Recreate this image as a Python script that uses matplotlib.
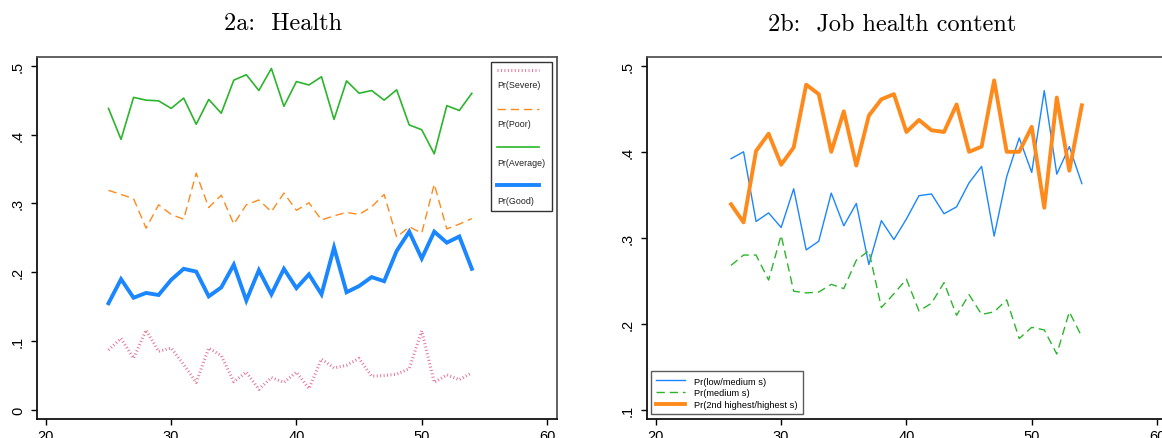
import matplotlib
matplotlib.use('Agg')
import matplotlib.pyplot as plt
from matplotlib.patches import Rectangle

# ---- data ----
age_a = list(range(25, 55))
severe = [0.087, 0.104, 0.075, 0.116, 0.085, 0.090, 0.066, 0.040, 0.090, 0.079,
          0.041, 0.055, 0.030, 0.047, 0.040, 0.055, 0.031, 0.074, 0.061, 0.065,
          0.075, 0.049, 0.050, 0.052, 0.060, 0.115, 0.040, 0.051, 0.044, 0.054]
poor = [0.319, 0.313, 0.307, 0.264, 0.298, 0.284, 0.277, 0.344, 0.294, 0.312,
        0.270, 0.298, 0.305, 0.288, 0.315, 0.290, 0.301, 0.276, 0.282, 0.287,
        0.284, 0.295, 0.313, 0.251, 0.266, 0.257, 0.328, 0.263, 0.270, 0.278]
average = [0.438, 0.393, 0.454, 0.450, 0.449, 0.438, 0.453, 0.415, 0.451, 0.431,
           0.479, 0.487, 0.464, 0.496, 0.441, 0.477, 0.472, 0.484, 0.422, 0.478,
           0.460, 0.464, 0.450, 0.465, 0.414, 0.407, 0.372, 0.442, 0.435, 0.460]
good = [0.155, 0.190, 0.163, 0.170, 0.167, 0.189, 0.205, 0.201, 0.165, 0.178,
        0.211, 0.159, 0.203, 0.168, 0.205, 0.177, 0.197, 0.168, 0.236, 0.171,
        0.180, 0.193, 0.187, 0.231, 0.259, 0.220, 0.259, 0.243, 0.252, 0.205]

age_b = list(range(26, 55))
low_med = [0.392, 0.400, 0.319, 0.329, 0.312, 0.357, 0.286, 0.296, 0.352, 0.314,
           0.340, 0.269, 0.320, 0.298, 0.322, 0.349, 0.351, 0.328, 0.336, 0.364,
           0.383, 0.302, 0.371, 0.416, 0.376, 0.471, 0.374, 0.406, 0.363]
medium = [0.268, 0.280, 0.280, 0.251, 0.303, 0.238, 0.236, 0.237, 0.246, 0.241,
          0.274, 0.285, 0.219, 0.235, 0.252, 0.215, 0.224, 0.248, 0.210, 0.234,
          0.211, 0.214, 0.228, 0.183, 0.196, 0.193, 0.165, 0.214, 0.185]
high = [0.339, 0.318, 0.401, 0.421, 0.385, 0.405, 0.478, 0.467, 0.400, 0.447,
        0.384, 0.442, 0.461, 0.467, 0.423, 0.437, 0.425, 0.423, 0.455, 0.400,
        0.406, 0.483, 0.400, 0.400, 0.429, 0.335, 0.463, 0.378, 0.454]

xticks = [20, 30, 40, 50, 60]
yticks_a = [0, 0.1, 0.2, 0.3, 0.4, 0.5]
ylabels_a = ['0', '.1', '.2', '.3', '.4', '.5']
yticks_b = [0.1, 0.2, 0.3, 0.4, 0.5]
ylabels_b = ['.1', '.2', '.3', '.4', '.5']

PINK = '#e8799a'
ORANGE = '#ff8a1c'
GREEN = '#2cb52c'
BLUE = '#1a86ff'

plt.rcParams['font.family'] = ['Liberation Sans', 'DejaVu Sans']

fig = plt.figure(figsize=(11.62, 4.39), dpi=100)
W, H = 1162, 439


def style_axes(ax, yticks, ylabels, ylim):
    ax.set_xlim(19.27, 60.82)
    ax.set_ylim(*ylim)
    ax.set_xticks(xticks)
    ax.set_xticklabels([str(t) for t in xticks])
    ax.set_yticks(yticks)
    ax.set_yticklabels(ylabels, rotation=90, va='center')
    ax.tick_params(direction='out', length=4.5, width=1, colors='black',
                   labelsize=10.5, pad=3)
    ax.tick_params(axis='y', pad=4)
    for side in ('left', 'bottom'):
        ax.spines[side].set_color('#111111')
        ax.spines[side].set_linewidth(1.3)
    for side in ('top', 'right'):
        ax.spines[side].set_color('#555555')
        ax.spines[side].set_linewidth(1.3)


# ---- 2a ----
ax1 = fig.add_axes([36.7 / W, 19 / H, 520.6 / W, 362.3 / H])
ax1.plot(age_a, severe, color=PINK, lw=2.2, linestyle=(0, (0.33, 0.8)), dash_capstyle='butt')
ax1.plot(age_a, poor, color=ORANGE, lw=1.0, linestyle=(0, (6, 3.5)))
ax1.plot(age_a, average, color=GREEN, lw=1.2)
ax1.plot(age_a, good, color=BLUE, lw=2.8, solid_joinstyle='miter')
style_axes(ax1, yticks_a, ylabels_a, (-0.0131, 0.5131))

# manual Stata-style legend (sample line above its label)
ax1.add_patch(Rectangle((0.872, 0.573), 0.117, 0.413, transform=ax1.transAxes,
                        fill=False, edgecolor='#333333', lw=1.0, zorder=5))
leg_items = [('Pr(Severe)', PINK, 2.2, (0, (0.33, 0.8))),
             ('Pr(Poor)', ORANGE, 1.0, (0, (6, 3.5))),
             ('Pr(Average)', GREEN, 1.2, '-'),
             ('Pr(Good)', BLUE, 2.8, '-')]
line_y = [0.9636, 0.856, 0.751, 0.645]
text_y = [0.9227, 0.815, 0.7085, 0.6025]
for (lab, c, lw, ls), ly, ty in zip(leg_items, line_y, text_y):
    ax1.plot([0.884, 0.964], [ly, ly], transform=ax1.transAxes, color=c, lw=lw,
             linestyle=ls, zorder=6)
    ax1.text(0.884, ty, lab, transform=ax1.transAxes, fontsize=6.4,
             va='center', ha='left', color='#222222', zorder=6)

# ---- 2b ----
ax2 = fig.add_axes([646.7 / W, 19 / H, 520.6 / W, 362.3 / H])
ax2.plot(age_b, low_med, color=BLUE, lw=1.0, label='Pr(low/medium s)')
ax2.plot(age_b, medium, color=GREEN, lw=1.0, linestyle=(0, (6, 3.5)), label='Pr(medium s)')
ax2.plot(age_b, high, color=ORANGE, lw=2.8, label='Pr(2nd highest/highest s)')
style_axes(ax2, yticks_b, ylabels_b, (0.0895, 0.5105))
leg = ax2.legend(loc='lower left', fontsize=6.7, frameon=True, fancybox=False,
                 edgecolor='#333333', handlelength=3.1, handletextpad=1.0,
                 labelspacing=0.3, borderpad=0.55, borderaxespad=0.0,
                 bbox_to_anchor=(0.0083, 0.013))
leg.get_frame().set_linewidth(1.0)

# ---- titles ----
fig.text(283 / W, 1 - 24 / H, '2a:  Health', family='cmr10', fontsize=17.5,
         ha='center', va='center')
fig.text(892 / W, 1 - 24 / H, '2b:  Job health content', family='cmr10', fontsize=17.5,
         ha='center', va='center')

fig.savefig('out.png', dpi=100)
